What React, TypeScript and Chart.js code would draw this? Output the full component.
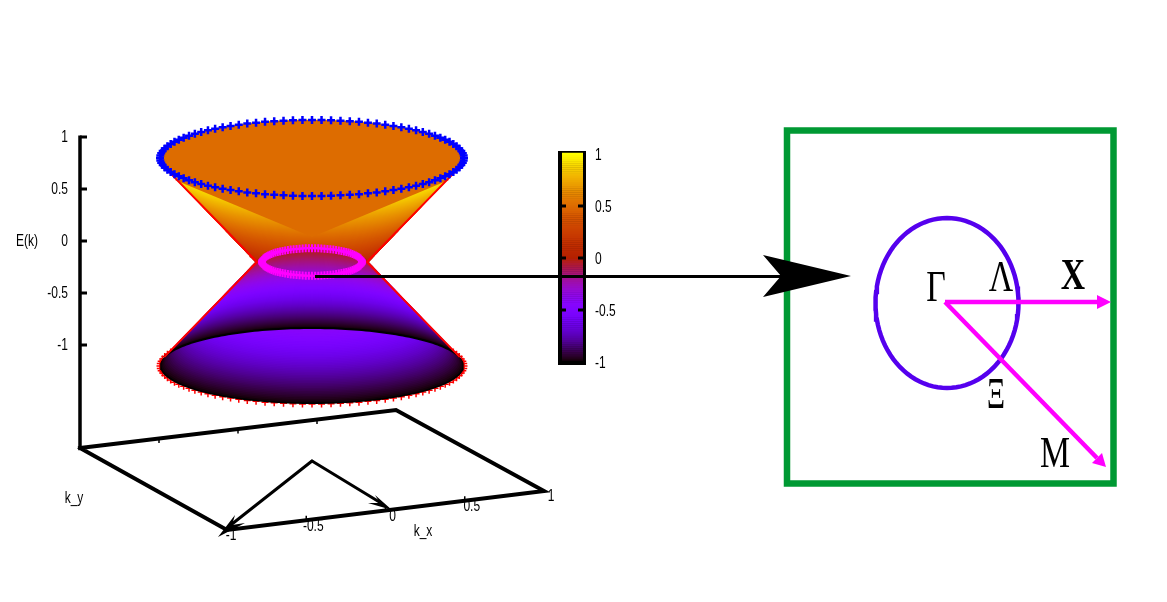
import React, { useEffect, useRef } from "react";
import { Chart, registerables } from "chart.js";

Chart.register(...registerables);

// ---- values ----
const energyTicks = [1, 0.5, 0, -0.5, -1];
const energyTickLabels = ["1", "0.5", "0", "-0.5", "-1"];
const kTicks = [-1, -0.5, 0, 0.5, 1];
const kTickLabels = ["-1", "-0.5", "0", "0.5", "1"];
const colorbarTicks = [1, 0.5, 0, -0.5, -1];
const colorbarLabels = ["1", "0.5", "0", "-0.5", "-1"];
const neckRadius = 55;
const rimRadius = 152;
const markerCount = 100;
const bandSteps = 80;
const baseFrame = [
  { x: 80, y: 448 }, { x: 396, y: 410 }, { x: 544, y: 491 }, { x: 227, y: 530 }, { x: 80, y: 448 },
];
const energyAxis = [{ x: 80, y: 135.5 }, { x: 80, y: 449 }];
const wedge = [{ x: 312, y: 237 }, { x: 175, y: 180 }, { x: 449, y: 180 }];
const neckLeft = { x: 257, y: 262 };
const neckRight = { x: 367, y: 262 };
const innerArrowStart = { x: 312, y: 461 };
const innerHeadLeft = [{ x: 218, y: 537 }, { x: 235, y: 515 }, { x: 232, y: 525 }, { x: 245, y: 523 }];
const innerHeadRight = [{ x: 392, y: 510 }, { x: 375, y: 495 }, { x: 380, y: 503 }, { x: 368, y: 503 }];
const bigArrowLine = [{ x: 315, y: 276.5 }, { x: 782, y: 276.5 }];
const bigArrowHead = [{ x: 851, y: 276 }, { x: 763, y: 255 }, { x: 781, y: 276 }, { x: 763, y: 297 }];
const zoneSquare = [
  { x: 787, y: 130.5 }, { x: 1113.5, y: 130.5 }, { x: 1113.5, y: 483.5 }, { x: 787, y: 483.5 }, { x: 787, y: 130.5 },
];
const gammaPoint = { x: 945, y: 302 };
const xArrowEnd = { x: 1099, y: 302 };
const xArrowHead = [{ x: 1111, y: 302 }, { x: 1097, y: 295 }, { x: 1097, y: 309 }];
const mArrowEnd = { x: 1097, y: 458 };
const mArrowHead = [{ x: 1106, y: 467 }, { x: 1092, y: 463 }, { x: 1102, y: 453 }];
const annotations = [
  { text: "Γ", x: 936, y: 289, bold: false },
  { text: "Λ", x: 1001, y: 279, bold: false },
  { text: "X", x: 1073, y: 277, bold: true },
  { text: "M", x: 1055, y: 455, bold: false },
  { text: "Ξ", x: 996, y: 396, bold: false },
];

// ---- gnuplot's default pm3d palette (7,5,15) ----
function palette(e: number) {
  const t = Math.min(1, Math.max(0, (e + 1) / 2));
  const r = Math.sqrt(t);
  const g = t * t * t;
  const b = Math.max(0, Math.sin(2 * Math.PI * t));
  return `rgb(${Math.round(r * 255)},${Math.round(g * 255)},${Math.round(b * 255)})`;
}

// ---- projection of the surface E(k) on the page ----
const cx = 312;
const ringY = (e: number) => 262 - 104 * e;
const ringRx = (e: number) => neckRadius + ((rimRadius - neckRadius) * Math.abs(e));
const ringPoint = (e: number, a: number) => ({
  x: cx + ringRx(e) * Math.cos(a),
  y: ringY(e) + (ringRx(e) / 4) * Math.sin(a),
});
function arc(e: number, from: number, to: number, n: number) {
  const pts = [];
  for (let i = 0; i <= n; i++) pts.push(ringPoint(e, from + ((to - from) * i) / n));
  return pts;
}
const tangent = 0.236;
const rimTop = (x: number) => {
  const u = Math.min(1, Math.abs(x - cx) / rimRadius);
  return ringY(-1) - 38 * Math.sqrt(1 - u * u);
};

const line = (data: any[], color: string, width: number, cap = "butt") => ({
  data, borderColor: color, borderWidth: width, showLine: true, pointRadius: 0, fill: false,
  tension: 0, borderCapStyle: cap, borderJoinStyle: "miter",
});
const shape = (data: any[], color: string, edge = 0) => ({
  data, borderColor: color, backgroundColor: color, borderWidth: edge, showLine: true, pointRadius: 0,
  fill: "shape", tension: 0,
});
const markers = (data: any[], color: string, radius: number, width: number) => ({
  data, showLine: false, pointStyle: "cross", pointRadius: radius, pointBorderColor: color,
  pointBorderWidth: width, borderColor: color, backgroundColor: color,
});
const ringMarkers = (e: number) => {
  const pts = [];
  for (let i = 0; i < markerCount; i++) pts.push(ringPoint(e, (2 * Math.PI * i) / markerCount));
  return pts;
};

const energyY = (v: number) => 241 - 104 * v;
const barY = (v: number) => 258 - 104 * v;
const frontEdge = (k: number) => {
  const f = (k + 1) / 2;
  return { x: baseFrame[3].x + (baseFrame[2].x - baseFrame[3].x) * f, y: baseFrame[3].y + (baseFrame[2].y - baseFrame[3].y) * f };
};
const backEdge = (k: number) => {
  const f = (k + 1) / 2;
  return { x: baseFrame[0].x + (baseFrame[1].x - baseFrame[0].x) * f, y: baseFrame[0].y + (baseFrame[1].y - baseFrame[0].y) * f };
};

function buildDatasets() {
  const out: any[] = [];
  // frame
  out.push(line(energyAxis, "#000", 3.5));
  energyTicks.forEach((v) => out.push(line([{ x: 80, y: energyY(v) }, { x: 87, y: energyY(v) }], "#000", 3)));
  out.push(line(baseFrame, "#000", 4, "square"));
  kTicks.slice(1, 4).forEach((k) => {
    const p = frontEdge(k);
    const q = backEdge(k);
    out.push(line([p, { x: p.x, y: p.y - 4.5 }], "#000", 1.5));
    out.push(line([q, { x: q.x, y: q.y + 4.5 }], "#000", 1.5));
  });
  // red samples of the lower rim, mostly hidden by the surface
  out.push(markers(ringMarkers(-1), "#ff0000", 3.5, 1.5));
  // upper cone
  for (let i = 0; i <= bandSteps; i++) {
    const e = i / bandSteps;
    out.push(shape(arc(e, 0, 2 * Math.PI, 64), palette(e), 1));
  }
  out.push(shape(arc(1, 0, 2 * Math.PI, 96), palette(0.5)));
  out.push(shape(wedge, palette(0.5)));
  // lower cone, back wall
  for (let i = 0; i <= bandSteps; i++) {
    const e = -i / bandSteps;
    out.push(shape(arc(e, Math.PI + tangent, 2 * Math.PI - tangent, 48), palette(e), 1));
  }
  // lower cone, front wall seen through the open rim
  const rimBack = arc(-1, Math.PI + tangent, 2 * Math.PI - tangent, 96);
  for (let i = bandSteps; i >= 33; i--) {
    const e = -i / bandSteps;
    const front = arc(e, -tangent, Math.PI + tangent, 64).map((p) => ({ x: p.x, y: Math.max(p.y, rimTop(p.x)) }));
    const span = Math.abs(front[0].x - cx);
    const back = rimBack.filter((p) => Math.abs(p.x - cx) <= span);
    out.push(shape([...front, ...back], palette(e), 0));
  }
  out.push(line(rimBack, "#000", 2));
  // red outline
  const lt = ringPoint(1, Math.PI - tangent);
  const rt = ringPoint(1, tangent);
  const lb = ringPoint(-1, Math.PI + tangent);
  const rb = ringPoint(-1, -tangent);
  out.push(line([lt, neckLeft, lb], "#ff0000", 2));
  out.push(line([rt, neckRight, rb], "#ff0000", 2));
  // sampled rings
  out.push(markers(ringMarkers(1), "#0000ff", 4, 2.5));
  out.push(markers(ringMarkers(0).map((p) => ({ x: cx + (p.x - cx) * 0.91, y: p.y })), "#ff00ff", 4, 2));
  // colour bar
  out.push(shape([{ x: 558, y: 151 }, { x: 586, y: 151 }, { x: 586, y: 365 }, { x: 558, y: 365 }], "#000"));
  for (let i = 0; i <= 100; i++) {
    const v = 1 - i / 50;
    out.push(line([{ x: 562, y: barY(v) }, { x: 583, y: barY(v) }], palette(v), 2.5));
  }
  colorbarTicks.slice(1, 4).forEach((v) => {
    out.push(line([{ x: 560, y: barY(v) }, { x: 566, y: barY(v) }], "#000", 3));
    out.push(line([{ x: 578, y: barY(v) }, { x: 584, y: barY(v) }], "#000", 3));
  });
  // inner arrows
  out.push(line([innerArrowStart, { x: 232, y: 524 }], "#000", 3, "round"));
  out.push(shape(innerHeadLeft, "#000"));
  out.push(line([innerArrowStart, { x: 381, y: 503 }], "#000", 3, "round"));
  out.push(shape(innerHeadRight, "#000"));
  // right panel
  out.push(line(zoneSquare, "#009933", 6.5, "square"));
  const circle = [];
  for (let i = 0; i <= 96; i++) {
    const a = (2 * Math.PI * i) / 96;
    circle.push({ x: 947 + 71.5 * Math.cos(a), y: 303 + 85 * Math.sin(a) });
  }
  out.push(line(circle, "#5500ee", 4.5, "round"));
  out.push(line([gammaPoint, xArrowEnd], "#ff00ff", 4.5));
  out.push(shape(xArrowHead, "#ff00ff"));
  out.push(line([gammaPoint, mArrowEnd], "#ff00ff", 4.5));
  out.push(shape(mArrowHead, "#ff00ff"));
  // long arrow
  out.push(line(bigArrowLine, "#000", 3));
  out.push(shape(bigArrowHead, "#000"));
  return out.reverse(); // Chart.js paints the first dataset last
}

const textPlugin = {
  id: "pageText",
  afterDatasetsDraw(chart: any) {
    const { ctx, scales } = chart;
    const put = (text: string, x: number, y: number, font: string, align: string, sx: number) => {
      ctx.save();
      ctx.translate(scales.x.getPixelForValue(x), scales.y.getPixelForValue(y));
      ctx.scale(sx, 1);
      ctx.font = font;
      ctx.textAlign = align;
      ctx.textBaseline = "middle";
      ctx.fillStyle = "#000";
      ctx.fillText(text, 0, 0);
      ctx.restore();
    };
    const sans = '16px "Liberation Sans"';
    energyTicks.forEach((v, i) => put(energyTickLabels[i], 68, energyY(v) + 1, sans, "right", 0.75));
    put("E(k)", 27, 242, sans, "center", 0.75);
    kTicks.forEach((k, i) => {
      const p = frontEdge(k);
      put(kTickLabels[i], p.x + (k === -1 ? 4 : 7), p.y + 6, sans, "center", 0.75);
    });
    put("k_y", 74, 499, sans, "center", 0.75);
    put("k_x", 423, 532, sans, "center", 0.75);
    colorbarTicks.forEach((v, i) => put(colorbarLabels[i], 595, barY(v) + (v === 1 ? 2 : 1.5), sans, "left", 0.75));
    annotations.forEach((a) =>
      put(a.text, a.x, a.y, `${a.bold ? "bold " : ""}45px "Liberation Serif"`, "center", a.text === "Ξ" ? 0.62 : 0.75)
    );
  },
};

export default function App() {
  const ref = useRef<HTMLCanvasElement | null>(null);
  useEffect(() => {
    document.body.style.margin = "0";
    const chart = new Chart(ref.current as HTMLCanvasElement, {
      type: "scatter",
      data: { datasets: buildDatasets() },
      plugins: [textPlugin],
      options: {
        animation: false,
        responsive: false,
        devicePixelRatio: 1,
        events: [],
        layout: { padding: 0, autoPadding: false },
        plugins: { legend: { display: false }, tooltip: { enabled: false }, title: { display: false } },
        scales: {
          x: { type: "linear", min: 0, max: 1167, display: false },
          y: { type: "linear", min: 0, max: 602, reverse: true, display: false },
        },
      },
    } as any);
    return () => chart.destroy();
  }, []);
  return (
    <div style={{ position: "absolute", left: 0, top: 0, width: 1167, height: 602, background: "#fff" }}>
      <canvas ref={ref} width={1167} height={602} style={{ display: "block" }} />
    </div>
  );
}
